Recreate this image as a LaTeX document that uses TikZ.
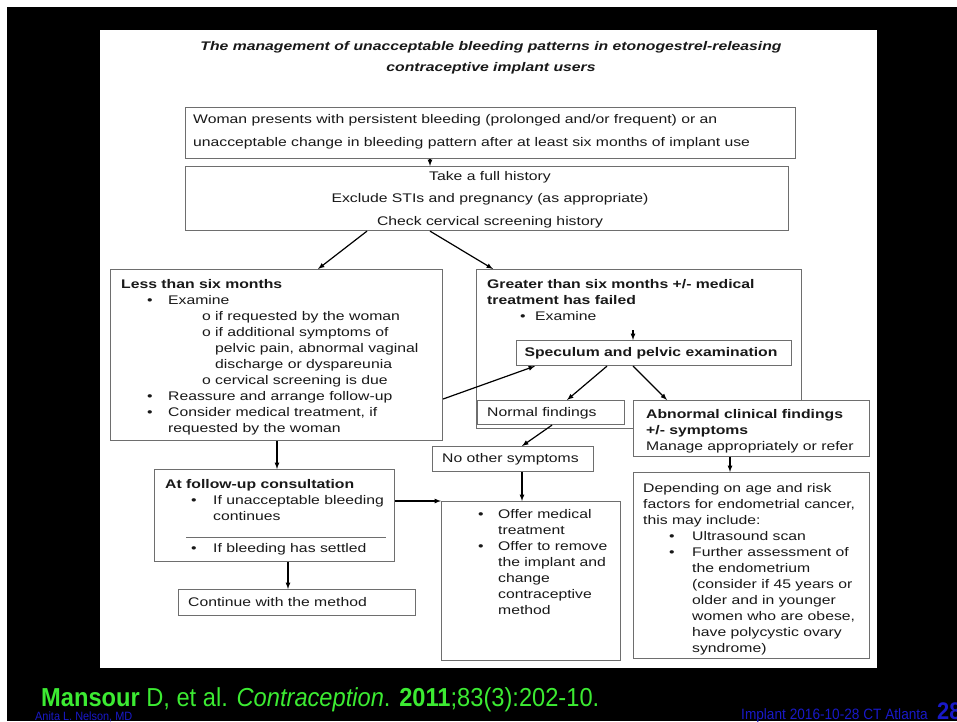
\documentclass[tikz,border=0pt]{standalone}
\usepackage{fontspec}
\setmainfont{Liberation Sans}[FakeStretch=1.26]
\newfontfamily\footfont{Liberation Sans}[FakeStretch=0.91]
\usepackage{xcolor}
\usetikzlibrary{arrows}
\usetikzlibrary{arrows.meta}
\tikzset{>=latex}
\definecolor{boxgray}{RGB}{110,110,110}
\definecolor{inkgray}{RGB}{25,25,25}
\definecolor{citegreen}{RGB}{60,235,50}
\definecolor{slideblue}{RGB}{25,25,200}
\tikzstyle{box} = [draw = boxgray, line width = 1.1pt, fill = white, inner sep = 0, anchor = north west]
\tikzstyle{txt} = [draw = none, inner sep = 0, anchor = north west, align = left, text = inkgray, font = \fontsize{12.5}{16}\selectfont]
\tikzstyle{arr} = [-latex, line width = 1.2pt]
\newcommand{\bul}[1]{\makebox[#1][l]{\textbullet}}
\newcommand{\subo}{\makebox[13pt][l]{o}}

\begin{document}
\begin{tikzpicture}[x = 1pt, y = -1pt]
\useasboundingbox (0, 0) rectangle (957, 721);
\fill [white] (0, 0) rectangle (957, 721);
\fill [black] (7, 7) rectangle (957, 721);
\fill [white] (100, 30) rectangle (877, 668);

% boxes
\node [box, minimum width = 610, minimum height = 51]  (woman) at (185, 107) {};
\node [box, minimum width = 603, minimum height = 64]  (history) at (185, 166) {};
\node [box, minimum width = 332, minimum height = 171] (less) at (110, 269) {};
\node [box, minimum width = 325, minimum height = 159] (greater) at (476, 269) {};
\node [box, minimum width = 275, minimum height = 25]  (spec) at (516, 340) {};
\node [box, minimum width = 147, minimum height = 24]  (normal) at (477, 400) {};
\node [box, minimum width = 236, minimum height = 56]  (abnormal) at (633, 400) {};
\node [box, minimum width = 161, minimum height = 25]  (noother) at (432, 446) {};
\node [box, minimum width = 240, minimum height = 92]  (follow) at (154, 469) {};
\node [box, minimum width = 237, minimum height = 26]  (cont) at (178, 589) {};
\node [box, minimum width = 179, minimum height = 159] (offer) at (441, 501) {};
\node [box, minimum width = 236, minimum height = 186] (depend) at (633, 472) {};

% texts
\node [txt, anchor = north, align = center, font = \fontsize{12.5}{16}\selectfont\bfseries\itshape] (title) at (491, 39)
  {\strut The management of unacceptable bleeding patterns in etonogestrel-releasing\\[5pt] contraceptive implant users};
\node [txt] (womant) at (193, 112)
  {\strut Woman presents with persistent bleeding (prolonged and/or frequent) or an\\[7pt]
   unacceptable change in bleeding pattern after at least six months of implant use};
\node [txt, anchor = north, align = center] (historyt) at (490, 169)
  {\strut Take a full history\\[6.5pt] Exclude STIs and pregnancy (as appropriate)\\[6.5pt] Check cervical screening history};
\node [txt] (lesst) at (121, 277)
  {\strut\textbf{Less than six months}\\
   \hspace*{26pt}\bul{21pt}Examine\\
   \hspace*{81pt}\subo if requested by the woman\\
   \hspace*{81pt}\subo if additional symptoms of\\
   \hspace*{94pt}pelvic pain, abnormal vaginal\\
   \hspace*{94pt}discharge or dyspareunia\\
   \hspace*{81pt}\subo cervical screening is due\\
   \hspace*{26pt}\bul{21pt}Reassure and arrange follow-up\\
   \hspace*{26pt}\bul{21pt}Consider medical treatment, if\\
   \hspace*{47pt}requested by the woman};
\node [txt] (greatert) at (487, 277)
  {\strut\textbf{Greater than six months +/- medical}\\
   \textbf{treatment has failed}\\
   \hspace*{33pt}\bul{15pt}Examine};
\node [txt, anchor = center, font = \fontsize{12.5}{16}\selectfont\bfseries] (spect) at (651, 353.5) {\strut Speculum and pelvic examination};
\node [txt, anchor = west] (normalt) at (487, 413.5) {\strut Normal findings};
\node [txt] (abnormalt) at (646, 407)
  {\strut\textbf{Abnormal clinical findings}\\ \textbf{+/- symptoms}\\ Manage appropriately or refer};
\node [txt, anchor = west] (noothert) at (442, 459.5) {\strut No other symptoms};
\node [txt] (followt) at (165, 477)
  {\strut\textbf{At follow-up consultation}\\
   \hspace*{26pt}\bul{22pt}If unacceptable bleeding\\
   \hspace*{48pt}continues\\
   \hspace*{21pt}\textcolor{boxgray}{\rule[-1pt]{200pt}{0.8pt}}\\[0pt]
   \hspace*{26pt}\bul{22pt}If bleeding has settled};
\node [txt, anchor = west] (contt) at (188, 603.5) {\strut Continue with the method};
\node [txt] (offert) at (478, 507)
  {\strut\bul{20pt}Offer medical\\
   \hspace*{20pt}treatment\\
   \bul{20pt}Offer to remove\\
   \hspace*{20pt}the implant and\\
   \hspace*{20pt}change\\
   \hspace*{20pt}contraceptive\\
   \hspace*{20pt}method};
\node [txt] (dependt) at (643, 481)
  {\strut Depending on age and risk\\
   factors for endometrial cancer,\\
   this may include:\\
   \hspace*{26pt}\bul{23pt}Ultrasound scan\\
   \hspace*{26pt}\bul{23pt}Further assessment of\\
   \hspace*{49pt}the endometrium\\
   \hspace*{49pt}(consider if 45 years or\\
   \hspace*{49pt}older and in younger\\
   \hspace*{49pt}women who are obese,\\
   \hspace*{49pt}have polycystic ovary\\
   \hspace*{49pt}syndrome)};

% arrows
\coordinate (exam) at (633, 330);
\draw [arr] ([xshift = 245pt]woman.south west) -- ([xshift = 245pt]history.north west);
\draw [arr] ([xshift = 182pt]history.south west) -- ([xshift = 208pt]less.north west);
\draw [arr] ([xshift = 245pt]history.south west) -- ([xshift = 17pt]greater.north west);
\draw [arr] (exam) -- (exam |- spec.north);
\draw [arr] ([yshift = -130pt]less.north east) -- ([xshift = 19pt]spec.south west);
\draw [arr] ([xshift = 91pt]spec.south west) -- ([xshift = 90pt]normal.north west);
\draw [arr] ([xshift = 117pt]spec.south west) -- ([xshift = 34pt]abnormal.north west);
\draw [arr] ([xshift = 75pt]normal.south west) -- ([xshift = 90pt]noother.north west);
\draw [arr] ([xshift = 90pt]noother.south west) -- ([xshift = 81pt]offer.north west);
\draw [arr] ([xshift = 167pt]less.south west) -- ([xshift = 123pt]follow.north west);
\draw [arr] ([xshift = 134pt]follow.south west) -- ([xshift = 110pt]cont.north west);
\draw [arr] (follow.east |- offer.north west) -- (offer.north west);
\draw [arr] ([xshift = 97pt]abnormal.south west) -- ([xshift = 97pt]depend.north west);

% footer
\node [draw = none, inner sep = 0, anchor = base west, text = citegreen, font = \footfont\fontsize{26}{28}\selectfont] (cite) at (41, 706)
  {\textbf{Mansour} D, et al. \textit{Contraception}. \textbf{2011};83(3):202-10.};
\node [draw = none, inner sep = 0, anchor = base west, text = slideblue, font = \footfont\fontsize{12}{14}\selectfont] (author) at (35, 720) {Anita L. Nelson, MD};
\node [draw = none, inner sep = 0, anchor = base west, text = slideblue, font = \footfont\fontsize{15}{17}\selectfont] (event) at (741, 719) {Implant 2016-10-28 CT Atlanta};
\node [draw = none, inner sep = 0, anchor = base west, text = slideblue, font = \footfont\fontsize{24}{26}\selectfont\bfseries] (slideno) at (937, 719) {28};
\end{tikzpicture}
\end{document}
